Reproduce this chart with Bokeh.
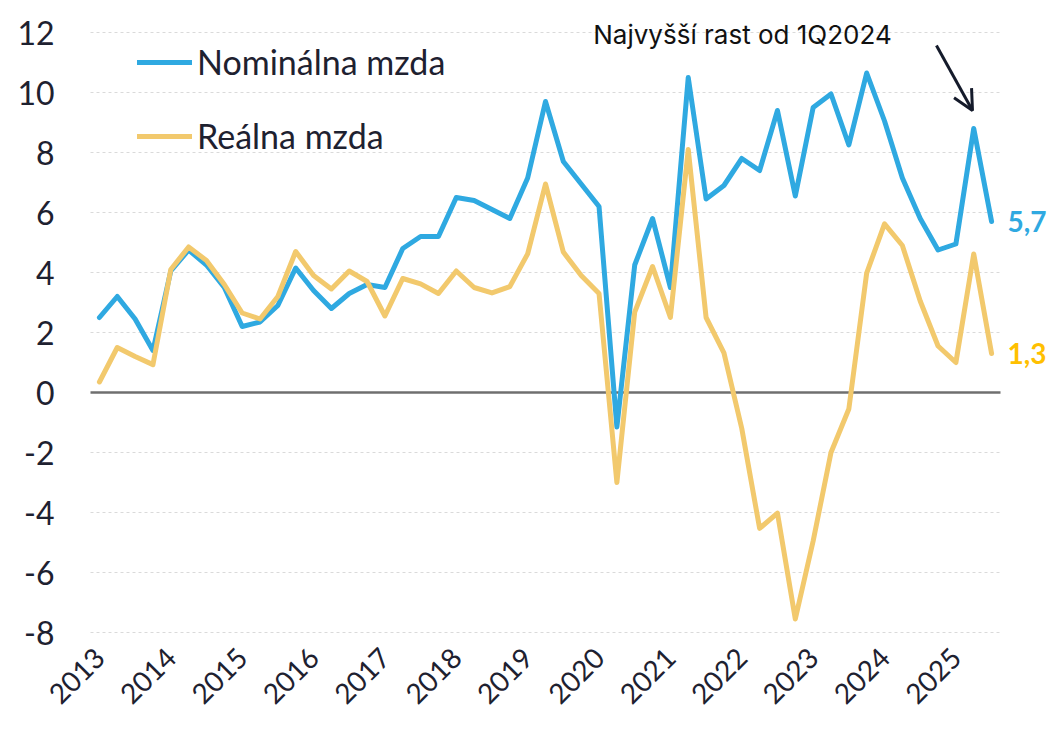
import math
from bokeh.plotting import figure
from bokeh.models import Range1d, Label, Arrow, OpenHead, Legend, LegendItem
from bokeh.core.properties import value
from bokeh.embed import file_html
from bokeh.resources import INLINE

# Quarterly data 2013Q1 .. 2025Q3 (y/y growth, %)
nominal = [2.5, 3.2, 2.45, 1.4,
           4.05, 4.75, 4.25, 3.5,
           2.2, 2.35, 2.9, 4.15,
           3.4, 2.8, 3.3, 3.6,
           3.5, 4.8, 5.2, 5.2,
           6.5, 6.4, 6.1, 5.8,
           7.15, 9.7, 7.7, 6.95,
           6.2, -1.15, 4.25, 5.8,
           3.5, 10.5, 6.45, 6.9,
           7.8, 7.4, 9.4, 6.55,
           9.5, 9.95, 8.25, 10.65,
           9.05, 7.15, 5.8, 4.75,
           4.95, 8.8, 5.7]
real = [0.35, 1.5, 1.2, 0.93,
        4.1, 4.85, 4.4, 3.6,
        2.65, 2.45, 3.2, 4.7,
        3.9, 3.45, 4.05, 3.7,
        2.55, 3.8, 3.62, 3.3,
        4.05, 3.5, 3.32, 3.53,
        4.62, 6.95, 4.68, 3.9,
        3.3, -3.0, 2.68, 4.2,
        2.5, 8.1, 2.5, 1.32,
        -1.2, -4.53, -4.02, -7.55,
        -4.95, -2.0, -0.55, 3.98,
        5.62, 4.9, 3.05, 1.55,
        1.0, 4.62, 1.3]
years = ["2013", "2014", "2015", "2016", "2017", "2018", "2019",
         "2020", "2021", "2022", "2023", "2024", "2025"]
year_positions = [0, 4, 8, 12, 16, 20, 24, 28, 32, 36, 40, 44, 48]
y_ticks = [-8, -6, -4, -2, 0, 2, 4, 6, 8, 10, 12]
y_tick_labels = ["-8", "-6", "-4", "-2", "0", "2", "4", "6", "8", "10", "12"]
series_names = ["Nominálna mzda", "Reálna mzda"]
annotation_text = "Najvyšší rast od 1Q2024"

BLUE = "#2FA9E1"
YELLOW = "#F2C96D"
GOLD = "#FFC000"
TEXT = "#1E2130"
FONT = "Lato"

n = len(nominal)
x = list(range(n))

# ---- layout: the frame covers the whole canvas so that texts around the
# data area are not clipped; the data area is 90..1000 px wide, 32..632 px tall.
W, H = 1048, 716
DATA_LEFT = 90
DATA_RIGHT = 1000
DATA_TOP = 32
PX_PER_Y = 30.0
y_max, y_min = 12, -8
px_per_x = (DATA_RIGHT - DATA_LEFT) / n
x0 = -0.5 - DATA_LEFT / px_per_x
x1 = -0.5 + (W - DATA_LEFT) / px_per_x
ytop = y_max + DATA_TOP / PX_PER_Y
ybot = y_max - (H - DATA_TOP) / PX_PER_Y

p = figure(width=W, height=H, output_backend="svg", toolbar_location=None,
           x_range=Range1d(x0, x1), y_range=Range1d(ybot, ytop),
           min_border_left=0, min_border_right=0, min_border_top=0, min_border_bottom=0)
p.outline_line_color = None
p.background_fill_color = "white"
p.border_fill_color = "white"
p.xaxis.visible = False
p.yaxis.visible = False
p.xgrid.visible = False
p.ygrid.visible = False

# horizontal grid lines limited to the data area
grid_y = [t for t in y_ticks if t != 0]
p.segment(x0=[-0.5] * len(grid_y), x1=[n - 0.5] * len(grid_y), y0=grid_y, y1=grid_y,
          line_color="#DADADA", line_dash="3 3", line_width=1)
# zero line
p.segment(x0=[-0.5], x1=[n - 0.5], y0=[0], y1=[0], line_color="#6F6F6F", line_width=2.5)

# y tick labels (right edge 36 px left of the data area)
y_label_x = -0.5 - 36 / px_per_x
p.text(x=[y_label_x] * len(y_ticks), y=y_ticks, text=y_tick_labels,
       text_align="right", text_baseline="middle", text_font=value(FONT),
       text_font_size="32px", text_color=TEXT)

r_nom = p.line(x, nominal, line_color=BLUE, line_width=5, line_join="round", line_cap="round")
r_real = p.line(x, real, line_color=YELLOW, line_width=5, line_join="round", line_cap="round")

legend = Legend(items=[LegendItem(label=series_names[0], renderers=[r_nom]),
                       LegendItem(label=series_names[1], renderers=[r_real])],
                location=(137, 560), margin=0, padding=0, spacing=33,
                glyph_width=55, glyph_height=40, label_height=40, label_standoff=5,
                label_text_font=FONT, label_text_font_size="34px", label_text_color=TEXT,
                background_fill_alpha=0, border_line_alpha=0)
p.add_layout(legend)

# year labels under the data area, at the first quarter of each year
year_label_y = y_max - (652 - DATA_TOP) / PX_PER_Y
p.text(x=year_positions, y=[year_label_y] * len(years), text=years, angle=math.pi / 4,
       text_align="right", text_baseline="middle", text_font=value(FONT),
       text_font_size="28px", text_color=TEXT)

# end-value labels
last = n - 1
p.text(x=[last], y=[nominal[-1]], text=[f"{nominal[-1]:.1f}".replace(".", ",")],
       x_offset=16, text_baseline="middle", text_font=value(FONT), text_font_style="bold",
       text_font_size="28px", text_color=BLUE)
p.text(x=[last], y=[real[-1]], text=[f"{real[-1]:.1f}".replace(".", ",")],
       x_offset=16, text_baseline="middle", text_font=value(FONT), text_font_style="bold",
       text_font_size="28px", text_color=GOLD)

# annotation + arrow
p.add_layout(Label(x=36.04, y=11.93, text=annotation_text, text_align="center",
                   text_baseline="alphabetic", text_font="Inter", text_font_size="26px",
                   text_color="#111111"))
p.add_layout(Arrow(x_start=46.91, y_start=11.57, x_end=48.93, y_end=9.4,
                   line_color="#151B2B", line_width=3,
                   end=OpenHead(size=20, line_color="#151B2B", line_width=3)))

open("out.html", "w").write(file_html(p, INLINE))
